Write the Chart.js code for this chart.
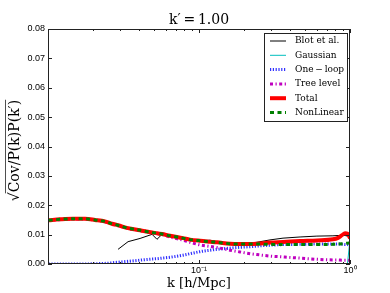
<!DOCTYPE html>
<html>
<head>
<meta charset="utf-8">
<script src="https://cdn.jsdelivr.net/npm/chart.js@4/dist/chart.umd.min.js"></script>
<style>
  html, body { margin: 0; padding: 0; background: #fff; }
  #wrap { width: 390px; height: 293px; }
</style>
</head>
<body>
<div id="wrap"><canvas id="covChart"></canvas></div>
<script>
// k values (h/Mpc)
const kValues = [0.0101, 0.0120, 0.0146, 0.0176, 0.0205, 0.0238, 0.0265, 0.0291, 0.0339, 0.0407,
  0.0489, 0.0527, 0.0569, 0.0643, 0.0783, 0.0871, 0.1015, 0.1183, 0.1316, 0.1603,
  0.187, 0.218, 0.242, 0.295, 0.360, 0.467, 0.604, 0.771, 0.833, 0.885, 0.927, 0.962, 1.0];

const blotValues = [null, null, null, null, null, null, null, 0.0050, 0.0076, 0.0087,
  0.0101, 0.0084, 0.0101, 0.0096, 0.0088, 0.0083, 0.0079, 0.0081, 0.0075, 0.0071,
  0.0069, 0.0071, 0.0074, 0.0082, 0.0088, 0.0092, 0.0095, 0.0096, 0.0097, 0.0097, 0.0097, 0.0095, 0.0088];

const gaussianValues = [0, 0, 0, 0, 0, 0, 0, 0, 0, 0,
  0, 0, 0, 0, 0, 0, 0, 0, 0, 0,
  0, 0, 0, 0, 0, 0, 0, 0, 0, 0, 0, 0, 0.0085];

const oneLoopValues = [0, 0, 0, 0, 0.0001, 0.0002, 0.0004, 0.0006, 0.0009, 0.0013,
  0.0017, 0.0018, 0.0020, 0.0023, 0.0030, 0.0035, 0.0042, 0.0047, 0.0050, 0.0054,
  0.0057, 0.0059, 0.0061, 0.0064, 0.0066, 0.0067, 0.0068, 0.0068, 0.0068, 0.0067, 0.0066, 0.0066, 0.0065];

const treeValues = [0.0148, 0.0151, 0.0153, 0.0153, 0.0149, 0.0144, 0.0136, 0.0131, 0.0121, 0.0114,
  0.0106, 0.0104, 0.0100, 0.0092, 0.0081, 0.0074, 0.0065, 0.0060, 0.0056, 0.0047,
  0.0041, 0.0035, 0.0032, 0.0027, 0.0024, 0.0020, 0.0016, 0.0014, 0.0014, 0.0013, 0.0013, 0.0013, 0.0013];

const totalValues = [0.0149, 0.0152, 0.0154, 0.0154, 0.0150, 0.0145, 0.0137, 0.0132, 0.0122, 0.0115,
  0.0107, 0.0105, 0.0102, 0.0096, 0.0088, 0.0083, 0.0079, 0.0076, 0.0074, 0.0069,
  0.0068, 0.0068, 0.0069, 0.0073, 0.0075, 0.0078, 0.0080, 0.0084, 0.0089, 0.0098, 0.0105, 0.0103, 0.0088];

const nonLinearValues = [0.0149, 0.0152, 0.0154, 0.0154, 0.0150, 0.0145, 0.0137, 0.0132, 0.0122, 0.0115,
  0.0107, 0.0105, 0.0102, 0.0096, 0.0088, 0.0083, 0.0079, 0.0076, 0.0074, 0.0069,
  0.0068, 0.0068, 0.0068, 0.0067, 0.0066, 0.0066, 0.0066, 0.0067, 0.0068, 0.0069, 0.0070, 0.0071, 0.0072];

const yTicks = [0, 0.01, 0.02, 0.03, 0.04, 0.05, 0.06, 0.07, 0.08];
const xMajorTicks = [0.1, 1];
const xTickLabels = ['10\u207B\u00B9', '10\u2070'];

function toPoints(values) {
  const pts = [];
  values.forEach(function (v, i) {
    if (v !== null) pts.push({ x: kValues[i], y: v });
  });
  return pts;
}

const serif = '"DejaVu Serif", "Liberation Serif", serif';
const sans = '"Liberation Sans", Arial, sans-serif';

// axes frame, inward ticks, labels and legend, drawn with the chart's own scales
const decorations = {
  id: 'decorations',
  afterDraw: function (chart) {
    const ctx = chart.ctx;
    const a = chart.chartArea;
    const xs = chart.scales.x;
    const ys = chart.scales.y;
    ctx.save();
    ctx.strokeStyle = '#222';
    ctx.lineWidth = 1;
    ctx.strokeRect(a.left + 0.5, a.top + 0.5, a.right - a.left - 1, a.bottom - a.top - 1);

    ctx.beginPath();
    yTicks.forEach(function (v) {
      const y = Math.round(ys.getPixelForValue(v)) + 0.5;
      ctx.moveTo(a.left, y); ctx.lineTo(a.left + 4, y);
      ctx.moveTo(a.right, y); ctx.lineTo(a.right - 4, y);
    });
    for (let d = 0.01; d < 1; d *= 10) {
      for (let m = 1; m <= 10; m++) {
        const v = d * m;
        if (v < xs.min || v > xs.max * 1.0001) continue;
        const x = Math.round(xs.getPixelForValue(v)) + 0.5;
        const len = (m === 1 || m === 10) ? 4 : 2;
        ctx.moveTo(x, a.bottom); ctx.lineTo(x, a.bottom - len);
        ctx.moveTo(x, a.top); ctx.lineTo(x, a.top + len);
      }
    }
    ctx.stroke();

    // tick labels
    ctx.fillStyle = '#000';
    ctx.font = '9px ' + sans;
    ctx.textAlign = 'right';
    ctx.textBaseline = 'middle';
    yTicks.forEach(function (v) {
      ctx.fillText(v.toFixed(2), a.left - 3, ys.getPixelForValue(v));
    });
    ctx.textAlign = 'center';
    ctx.textBaseline = 'top';
    xMajorTicks.forEach(function (v, i) {
      ctx.fillText(xTickLabels[i], xs.getPixelForValue(v), a.bottom + 2);
    });

    // title and axis labels
    ctx.textBaseline = 'alphabetic';
    ctx.font = '14px ' + serif;
    ctx.fillText('k\u2032\u2009=\u20091.00', (a.left + a.right) / 2, 24);
    ctx.font = '13px ' + serif;
    ctx.fillText('k [h/Mpc]', (a.left + a.right) / 2, 287);

    ctx.translate(15, (a.top + a.bottom) / 2 + 4);
    ctx.rotate(-Math.PI / 2);
    ctx.font = '14px ' + serif;
    const inner = 'Cov/P(k)P(k\u2032)';
    const rootW = ctx.measureText('\u221A').width;
    const w = ctx.measureText(inner).width;
    const x0 = -(w + rootW) / 2;
    ctx.textAlign = 'left';
    ctx.textBaseline = 'middle';
    ctx.fillText('\u221A', x0, 0);
    ctx.fillText(inner, x0 + rootW, 0);
    ctx.beginPath();
    ctx.lineWidth = 0.8;
    ctx.moveTo(x0 + rootW - 1, -9.5);
    ctx.lineTo(x0 + rootW + w, -9.5);
    ctx.stroke();
    ctx.restore();

    // legend
    ctx.save();
    const lx = 264, ly = 33, lw = 83, lh = 88;
    ctx.fillStyle = '#fff';
    ctx.fillRect(lx, ly, lw, lh);
    ctx.strokeStyle = '#222';
    ctx.lineWidth = 1;
    ctx.strokeRect(lx + 0.5, ly + 0.5, lw, lh);
    ctx.font = '9px ' + serif;
    ctx.textAlign = 'left';
    ctx.textBaseline = 'middle';
    chart.data.datasets.forEach(function (ds, i) {
      const y = ly + 8 + i * 14.3;
      ctx.beginPath();
      ctx.strokeStyle = ds.borderColor;
      ctx.lineWidth = ds.borderWidth;
      ctx.setLineDash(ds.borderDash || []);
      ctx.moveTo(lx + 6, y);
      ctx.lineTo(lx + 22, y);
      ctx.stroke();
      ctx.setLineDash([]);
      ctx.fillStyle = '#000';
      ctx.fillText(ds.label, lx + 31, y);
    });
    ctx.restore();
  }
};

new Chart(document.getElementById('covChart'), {
  type: 'line',
  data: {
    datasets: [
      { label: 'Blot et al.', data: toPoints(blotValues), borderColor: '#000000', borderWidth: 1, tension: 0, order: 5 },
      { label: 'Gaussian', data: toPoints(gaussianValues), borderColor: '#00bfbf', borderWidth: 1, tension: 0, order: 4 },
      { label: 'One\u2009\u2212\u2009loop', data: toPoints(oneLoopValues), borderColor: '#3030ff', borderWidth: 3, borderDash: [1.2, 1.6], cubicInterpolationMode: 'monotone', order: 3 },
      { label: 'Tree level', data: toPoints(treeValues), borderColor: '#bf00bf', borderWidth: 3, borderDash: [3, 2.5, 1.2, 2.5], cubicInterpolationMode: 'monotone', order: 2 },
      { label: 'Total', data: toPoints(totalValues), borderColor: '#ff0000', borderWidth: 4, cubicInterpolationMode: 'monotone', order: 1 },
      { label: 'NonLinear', data: toPoints(nonLinearValues), borderColor: '#008000', borderWidth: 3, borderDash: [4, 3.5], cubicInterpolationMode: 'monotone', order: 0 }
    ]
  },
  options: {
    responsive: true,
    maintainAspectRatio: false,
    animation: false,
    layout: { padding: { left: 48, right: 40, top: 29, bottom: 29 } },
    elements: { point: { radius: 0 }, line: { borderCapStyle: 'butt' } },
    datasets: { line: { clip: 0 } },
    scales: {
      x: { type: 'logarithmic', min: 0.01, max: 1, display: false },
      y: { type: 'linear', min: 0, max: 0.08, display: false }
    },
    plugins: {
      legend: { display: false },
      title: { display: false },
      tooltip: { enabled: false }
    }
  },
  plugins: [decorations]
});
</script>
</body>
</html>
